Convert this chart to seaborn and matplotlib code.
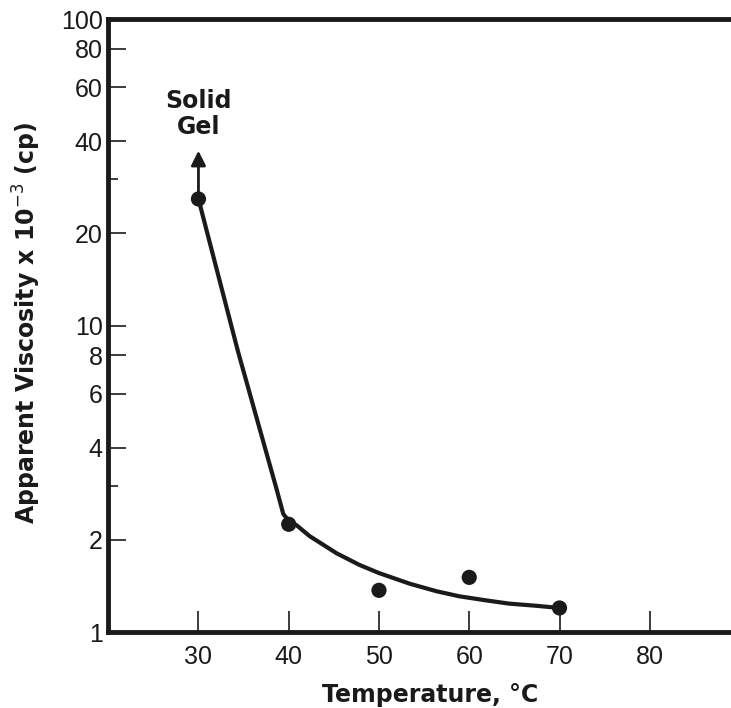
import numpy as np
import seaborn as sns
import pandas as pd
import matplotlib.pyplot as plt

# measured points
temps = [30, 40, 50, 60, 70]
viscosity = [25.9, 2.25, 1.37, 1.51, 1.2]

# hand-drawn fit curve
curve_t = [30, 34.4, 38.6, 39.4, 40.0, 40.9, 42.3, 45.3, 47.8, 50.0,
           53.4, 56.4, 58.9, 61.9, 64.4, 67.4, 70]
curve_v = [25.9, 8.2, 2.97, 2.43, 2.31, 2.23, 2.06, 1.81, 1.66, 1.56,
           1.44, 1.36, 1.31, 1.27, 1.24, 1.22, 1.2]

ytick_vals = [1, 2, 4, 6, 8, 10, 20, 40, 60, 80, 100]
ytick_minor = [3, 30]
xtick_vals = [30, 40, 50, 60, 70, 80]

sns.set_style("ticks")
plt.rcParams['font.family'] = ['Liberation Sans', 'DejaVu Sans']

pts = pd.DataFrame({'t': temps, 'v': viscosity})
fit = pd.DataFrame({'t': curve_t, 'v': curve_v})

fig = plt.figure(figsize=(7.31, 7.08), dpi=100)
ax = fig.add_axes([0.148, 0.107, 0.852, 0.866])

sns.lineplot(data=fit, x='t', y='v', sort=False, color='#1a1a1a', lw=3, ax=ax,
             solid_joinstyle='round', solid_capstyle='round')
sns.scatterplot(data=pts, x='t', y='v', color='#1a1a1a', s=120, edgecolor='none', ax=ax, zorder=3)

ax.set_yscale('log')
ax.set_ylim(1, 100)
ax.set_xlim(20, 89)

# arrow to "Solid Gel"
ax.annotate('', xy=(30, 38), xytext=(30, viscosity[0]),
            arrowprops=dict(arrowstyle='-|>', color='#1a1a1a', lw=2, mutation_scale=22))
ax.text(30, 49, 'Solid\nGel', ha='center', va='center', fontsize=17,
        fontweight='bold', linespacing=1.12, family='DejaVu Sans', color='#1a1a1a')

ax.set_yticks(ytick_vals)
ax.set_yticklabels([str(v) for v in ytick_vals])
ax.set_yticks(ytick_minor, minor=True)
ax.set_yticklabels([], minor=True)
ax.set_xticks(xtick_vals)

ax.tick_params(axis='both', which='both', direction='in', labelsize=18, colors='#1a1a1a')
ax.tick_params(axis='y', which='major', length=13, width=1.2, pad=4)
ax.tick_params(axis='y', which='minor', length=7, width=1.2)
ax.tick_params(axis='x', which='major', length=15, width=1.2, pad=9)

for side in ['left', 'bottom', 'top']:
    ax.spines[side].set_linewidth(3.5)
    ax.spines[side].set_color('#1a1a1a')
ax.spines['right'].set_visible(False)

ax.set_xlabel('Temperature, \u00b0C', fontsize=17, fontweight='bold',
              family='DejaVu Sans', color='#1a1a1a')
ax.set_ylabel('Apparent Viscosity x 10$^{-3}$ (cp)', fontsize=17, fontweight='bold',
              family='DejaVu Sans', color='#1a1a1a')
ax.xaxis.set_label_coords(0.517, -0.083)
ax.yaxis.set_label_coords(-0.104, 0.505)

plt.savefig('out.png', dpi=100)
